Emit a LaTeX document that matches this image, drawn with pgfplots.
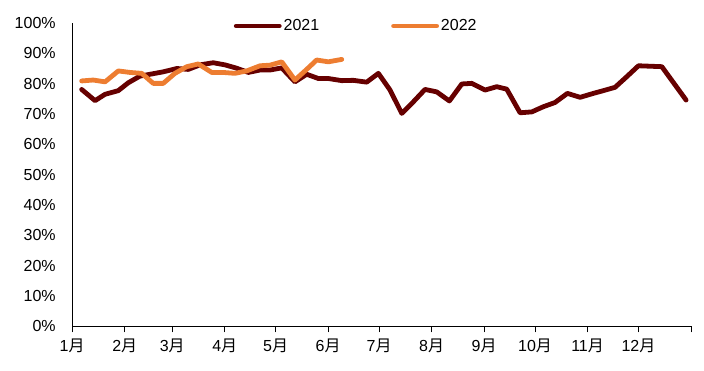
\documentclass[border=0pt]{standalone}
\usepackage{pgfplots}
\pgfplotsset{compat=1.18}
\usepackage{fontspec}
\setmainfont{Liberation Sans}
\newfontfamily\cjk{Noto Sans CJK SC}
\definecolor{c21}{RGB}{102,0,0}
\definecolor{c22}{RGB}{237,125,49}
\newcommand{\m}{{\cjk 月}}
\begin{document}
\begin{tikzpicture}
\begin{axis}[name=ax, scale only axis, width=619pt, height=303.5pt,
  xmin=0, xmax=365, ymin=0, ymax=100,
  axis x line=bottom, axis y line=left,
  axis line style={-, line width=0.8pt, black},
  xtick={0,31,59,90,120,151,181,212,243,273,304,334,365},
  xticklabels={1\m,2\m,3\m,4\m,5\m,6\m,7\m,8\m,9\m,10\m,11\m,12\m,},
  x tick style={black, line width=0.8pt},
  xtick align=outside, major tick length=6pt,
  ytick={0,10,...,100},
  yticklabels={0\%,10\%,20\%,30\%,40\%,50\%,60\%,70\%,80\%,90\%,100\%},
  y tick style={draw=none},
  tick label style={font=\fontsize{16}{19}\selectfont},
  yticklabel style={xshift=-10pt},
  xticklabel style={yshift=-3pt},
  legend columns=2,
  legend style={at={(0.459,0.99)}, anchor=center, draw=none, fill=none,
    font=\fontsize{16}{19}\selectfont,
    /tikz/every even column/.append style={column sep=70pt}},
  legend image code/.code={\draw[#1, line width=4.8pt, line cap=round] (0pt,0pt) -- (43pt,0pt);},
]
\addplot[c21, line width=4.8pt, line join=round, line cap=round] coordinates {
(5.6,78.1) (13.5,74.4) (19.4,76.5) (27.2,77.7) (33.1,80.3) (40,82.5)
(46.9,83.2) (53.7,83.9) (61.7,85.0) (68.5,84.7) (75.4,86.2) (83.2,86.9)
(90.1,86.2) (97,85.1) (103.9,83.7) (110.8,84.5) (116.7,84.5) (123.6,85.2)
(131.4,80.6) (138.3,83.1) (145.2,81.7) (151.1,81.7) (159,81.0) (165.8,81.1)
(173.7,80.5) (180.6,83.4) (187.5,77.9) (194.4,70.2) (201.2,74.0) (208.1,78.1)
(215,77.3) (222.5,74.3) (229.8,79.9) (235.7,80.1) (243.5,77.9) (250.4,79.0)
(256.3,78.2) (264.2,70.4) (271.1,70.7) (277.9,72.4) (284.8,73.8) (292.1,76.8)
(299.6,75.5) (307.4,76.8) (313.3,77.7) (320.2,78.8) (327.1,82.3) (334,85.9)
(347.8,85.6) (362.1,74.6)
};
\addlegendentry{2021}
\addplot[c22, line width=4.8pt, line join=round, line cap=round] coordinates {
(5.6,80.9) (12.4,81.2) (19.4,80.6) (27.2,84.2) (34.1,83.7) (41,83.4)
(47.8,80.1) (53.7,80.1) (60.6,83.4) (67.6,85.6) (74.4,86.5) (82.3,83.7)
(89.1,83.7) (96,83.4) (102.9,84.2) (110.8,85.9) (116.7,86.1) (123.6,87.2)
(131.4,81.2) (138.3,84.7) (144.2,87.8) (151.1,87.2) (159,88.0)
};
\addlegendentry{2022}
\end{axis}
\pgfresetboundingbox
\path ([shift={(-72.2pt,-44.5pt)}]ax.south west) rectangle ([shift={(13pt,23pt)}]ax.north east);
\end{tikzpicture}
\end{document}
